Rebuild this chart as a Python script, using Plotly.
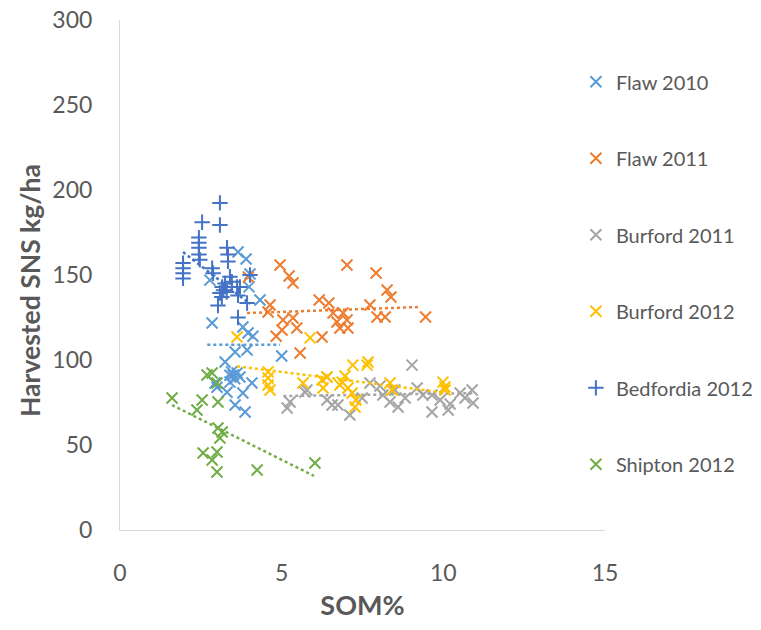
import numpy as np
import plotly.graph_objects as go

# ---- data (SOM %, Harvested SNS kg/ha) ----
flaw2010_x = [3.65, 3.9, 4.02, 3.99, 2.78, 4.33, 2.85, 3.8, 3.96, 4.11, 5.0, 3.56, 3.93, 3.25,
              3.5, 3.4, 3.62, 3.71, 3.45, 3.55, 3.4, 2.94, 4.08, 3.31, 3.8, 3.56, 3.87, 3.0]
flaw2010_y = [163.5, 159.4, 150.6, 143, 147, 135.3, 121.8, 119.4, 115.9, 114, 102.4, 104.7, 105.9, 98.8,
              91.2, 91, 92.4, 90, 93, 89, 87, 86.5, 86.5, 81, 80.6, 73.5, 69.4, 84]

flaw2011_x = [4.95, 5.23, 5.35, 7.02, 7.92, 8.26, 8.38, 6.16, 6.46, 4.64, 4.58, 7.73, 7.95, 8.2,
              9.45, 5.04, 5.35, 5.47, 5.01, 6.59, 6.9, 6.71, 7.02, 6.8, 7.05, 6.25, 5.57, 4.83, 3.97]
flaw2011_y = [155.9, 149.4, 145.3, 155.9, 151.2, 141.2, 137.1, 135.3, 133.5, 132.4, 128.2, 132.4, 125.3, 125.3,
              125.3, 123.5, 124.7, 118.8, 117.6, 127.6, 127.6, 122.4, 123.5, 118.8, 118.8, 113.5, 104.1, 114, 148.8]

burford2011_x = [5.17, 5.26, 5.72, 6.4, 6.4, 6.56, 6.74, 7.11, 7.73, 8.04, 8.13, 8.35, 8.6, 9.03, 8.82,
                 9.19, 9.37, 9.65, 9.65, 10.15, 10.21, 10.52, 10.89, 10.92, 10.67, 5.78, 7.49, 8.5, 9.9]
burford2011_y = [71.8, 75.3, 81.2, 90, 76.5, 73.5, 73.5, 67.6, 86.5, 84.7, 79.4, 75.3, 72.4, 97, 77.6,
                 83.5, 79.4, 79.4, 69.4, 70.6, 74.1, 80.6, 82.4, 74.7, 77.6, 82.4, 77.6, 82.4, 76.5]

burford2012_x = [3.62, 5.88, 4.58, 4.58, 4.58, 4.64, 5.66, 6.25, 6.4, 6.28, 7.2, 7.67, 7.64, 6.96,
                 6.87, 7.05, 7.18, 7.3, 7.27, 6.8, 8.35, 8.41, 10.05, 10.05, 9.99]
burford2012_y = [113.5, 113, 93, 89.4, 85.3, 82.4, 86.5, 88.2, 90, 83.5, 97, 98.8, 97, 90.6,
                 87, 83.5, 80.6, 76.5, 72.4, 85.3, 86.5, 82.4, 84.1, 82.4, 87]

bedfordia2012_x = [3.09, 2.54, 3.09, 2.44, 2.44, 2.44, 2.44, 2.47, 1.95, 1.95, 1.95, 1.95, 3.31, 3.34,
                   3.34, 2.85, 2.88, 3.4, 3.16, 3.25, 3.46, 3.62, 3.65, 3.03, 3.93, 3.65, 4.02, 3.09,
                   3.71, 3.2, 3.3, 3.15]
bedfordia2012_y = [192.4, 181, 179.4, 172, 169, 166, 162, 159, 157, 154, 151, 148, 166, 162,
                   158, 154, 151, 149, 143, 145, 146, 143, 138, 132, 133.5, 125, 150, 139.4,
                   143, 141, 140, 137]

shipton2012_x = [1.61, 2.54, 2.38, 3.03, 2.69, 2.85, 3.0, 3.03, 3.16, 3.09, 2.57, 3.0, 2.85, 3.0, 4.24, 6.03]
shipton2012_y = [77.6, 76.5, 70.6, 75.3, 91.2, 92.4, 86.5, 60, 57.6, 54.1, 45.3, 45.9, 41.2, 34.1, 35.3, 39.4]

# linear trendlines as drawn in the original (start/end values)
trend_flaw2010_x = [2.7, 4.95]
trend_flaw2010_y = [109, 109]
trend_flaw2011_x = [3.93, 9.3]
trend_flaw2011_y = [127.6, 131.2]
trend_burford2011_x = [5.05, 10.95]
trend_burford2011_y = [78.8, 80.5]
trend_burford2012_x = [3.62, 10.05]
trend_burford2012_y = [96.3, 80.8]
trend_bedfordia2012_x = [1.95, 4.02]
trend_bedfordia2012_y = [163.5, 133]
trend_shipton2012_x = [1.61, 6.0]
trend_shipton2012_y = [73.5, 31.8]

series_names = ["Flaw 2010", "Flaw 2011", "Burford 2011", "Burford 2012", "Bedfordia 2012", "Shipton 2012"]
series_x = [flaw2010_x, flaw2011_x, burford2011_x, burford2012_x, bedfordia2012_x, shipton2012_x]
series_y = [flaw2010_y, flaw2011_y, burford2011_y, burford2012_y, bedfordia2012_y, shipton2012_y]
trends_x = [trend_flaw2010_x, trend_flaw2011_x, trend_burford2011_x, trend_burford2012_x,
            trend_bedfordia2012_x, trend_shipton2012_x]
trends_y = [trend_flaw2010_y, trend_flaw2011_y, trend_burford2011_y, trend_burford2012_y,
            trend_bedfordia2012_y, trend_shipton2012_y]
colors = ["#5B9BD5", "#ED7D31", "#A5A5A5", "#FFC000", "#4472C4", "#70AD47"]
symbols = ["x-thin-open", "x-thin-open", "x-thin-open", "x-thin-open", "cross-thin-open", "x-thin-open"]

fig = go.Figure()
for name, xs, ys, tx, ty, c, s in zip(series_names, series_x, series_y, trends_x, trends_y, colors, symbols):
    fig.add_trace(go.Scatter(
        x=xs, y=ys, mode="markers", name=name, legendgroup=name,
        marker=dict(symbol=s, size=11, color=c, line=dict(color=c, width=2)),
    ))
    fig.add_trace(go.Scatter(
        x=tx, y=ty, mode="lines", showlegend=False, legendgroup=name,
        line=dict(color=c, width=2.5, dash="dot"), hoverinfo="skip",
    ))

font_family = "Lato, 'Open Sans', sans-serif"
fig.update_layout(
    width=761, height=630,
    margin=dict(l=120, r=156, t=20, b=100, autoexpand=False),
    paper_bgcolor="white", plot_bgcolor="white",
    font=dict(family=font_family, color="#595959"),
    showlegend=True,
    legend=dict(x=0.940, xanchor="left", y=0.917, yanchor="top",
                font=dict(size=20, color="#595959"), tracegroupgap=47.5,
                itemwidth=30, bgcolor="rgba(0,0,0,0)"),
    xaxis=dict(range=[0, 15], tickvals=[0, 5, 10, 15], showgrid=False, zeroline=False,
               showline=True, linecolor="#D9D9D9", linewidth=1, automargin=False,
               ticklabeloverflow="allow",
               tickfont=dict(size=23, color="#595959"), ticks="", ticklabelstandoff=22,
               title=dict(text="<b>SOM%</b>", font=dict(size=27, color="#595959"), standoff=11)),
    yaxis=dict(range=[0, 300], tickvals=[0, 50, 100, 150, 200, 250, 300], showgrid=False, zeroline=False,
               showline=True, linecolor="#D9D9D9", linewidth=1, automargin=False,
               ticklabeloverflow="allow",
               tickfont=dict(size=23, color="#595959"), ticks="", ticklabelstandoff=22),
    annotations=[dict(text="<b>Harvested SNS kg/ha</b>", textangle=-90, showarrow=False,
                      xref="paper", yref="paper", x=-0.1856, y=0.4706,
                      xanchor="center", yanchor="middle",
                      font=dict(size=26.5, color="#595959"))],
)

# remove the browser's default 8px page margin so the figure fills the window exactly
fig.write_html("out.html", config={"displayModeBar": False},
               post_script="document.body.style.margin='0px';")
